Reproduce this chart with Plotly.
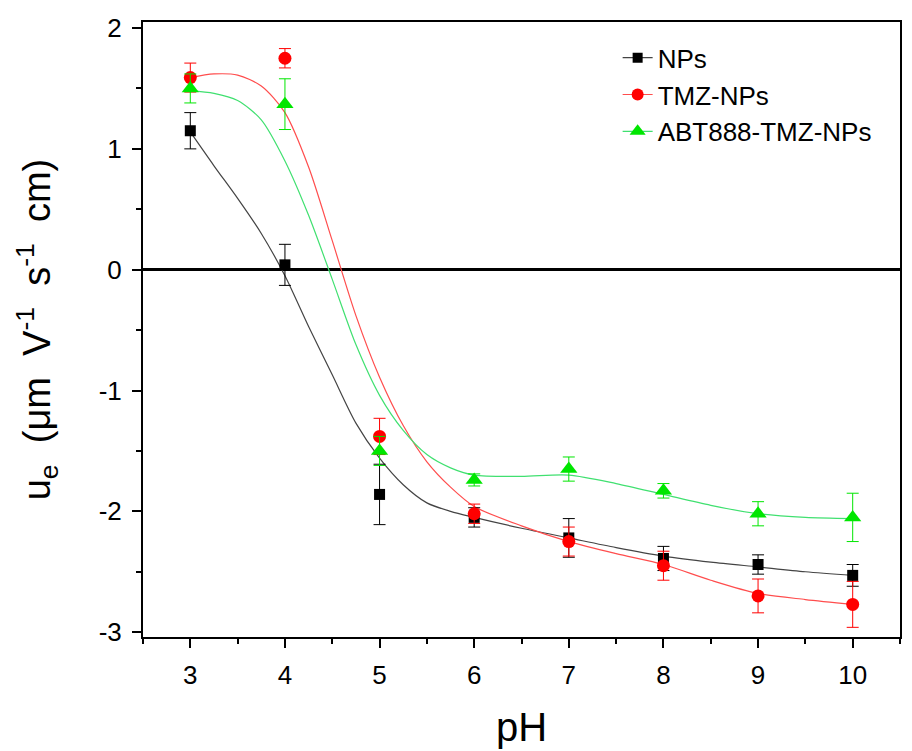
import plotly.graph_objects as go

# ---- measured data ----
pH = [3, 4, 5, 6, 7, 8, 9, 10]

nps = [1.15, 0.04, -1.86, -2.05, -2.22, -2.39, -2.44, -2.53]
nps_err = [0.15, 0.17, 0.25, 0.08, 0.16, 0.10, 0.08, 0.09]

tmz = [1.59, 1.75, -1.38, -2.02, -2.25, -2.45, -2.70, -2.77]
tmz_err = [0.12, 0.08, 0.15, 0.08, 0.12, 0.12, 0.14, 0.19]

abt = [1.50, 1.37, -1.50, -1.74, -1.65, -1.83, -2.02, -2.05]
abt_err = [0.12, 0.21, 0.12, 0.05, 0.10, 0.06, 0.10, 0.20]

# fitted curves
curve_x = [3, 3.25, 3.5, 3.75, 4, 4.25, 4.5, 4.75, 5, 5.25, 5.5, 5.75, 6,
           6.5, 7, 7.5, 8, 8.5, 9, 9.5, 10]
nps_curve = [1.14, 0.86, 0.59, 0.30, -0.05, -0.47, -0.87, -1.27, -1.56, -1.78,
             -1.93, -2.00, -2.05, -2.14, -2.22, -2.30, -2.37, -2.42, -2.46, -2.50, -2.53]
tmz_curve = [1.59, 1.62, 1.61, 1.52, 1.30, 0.85, 0.24, -0.38, -0.89, -1.29,
             -1.59, -1.80, -1.96, -2.12, -2.25, -2.35, -2.44, -2.57, -2.68, -2.73, -2.77]
abt_curve = [1.48, 1.46, 1.40, 1.24, 0.90, 0.45, -0.08, -0.62, -1.04, -1.33,
             -1.53, -1.64, -1.70, -1.71, -1.70, -1.77, -1.86, -1.95, -2.02, -2.05, -2.06]

series_names = ["NPs", "TMZ-NPs", "ABT888-TMZ-NPs"]

x_tickvals = [3, 4, 5, 6, 7, 8, 9, 10]
x_ticklabels = ["3", "4", "5", "6", "7", "8", "9", "10"]
y_tickvals = [-3, -2, -1, 0, 1, 2]
y_ticklabels = ["-3", "-2", "-1", "0", "1", "2"]

# ---- styles ----
FONT = "Arial, Liberation Sans, sans-serif"
colors = ["#000000", "#ff0000", "#00e600"]
curve_colors = ["#444444", "#ff4d4d", "#40e070"]
symbols = ["square", "circle", "triangle-up"]
sizes = [11, 13, 15]

fig = go.Figure()

ys = [nps, tmz, abt]
errs = [nps_err, tmz_err, abt_err]
curves = [nps_curve, tmz_curve, abt_curve]

for i in range(3):
    fig.add_trace(go.Scatter(
        x=curve_x, y=curves[i], mode="lines",
        line=dict(color=curve_colors[i], width=1.2, shape="spline", smoothing=0.8),
        showlegend=False, hoverinfo="skip"))

for i in range(3):
    fig.add_trace(go.Scatter(
        x=pH, y=ys[i], mode="markers",
        marker=dict(symbol=symbols[i], size=sizes[i], color=colors[i], line=dict(width=0)),
        error_y=dict(type="data", array=errs[i], color=colors[i], thickness=1, width=6),
        showlegend=False, name=series_names[i]))

# legend entries
for i in range(3):
    fig.add_trace(go.Scatter(
        x=[None], y=[None], mode="lines+markers", name=series_names[i],
        marker=dict(symbol=symbols[i], size=sizes[i] - 1, color=colors[i]),
        line=dict(color=curve_colors[i], width=1.2)))

axis_common = dict(
    showline=True, linecolor="black", linewidth=2, mirror=True,
    ticks="outside", ticklen=9, tickwidth=2, tickcolor="black",
    showgrid=False, tickfont=dict(family=FONT, size=26, color="black"),
)

fig.update_xaxes(
    range=[2.5, 10.5], tickvals=x_tickvals, ticktext=x_ticklabels,
    minor=dict(ticks="outside", ticklen=5, tickwidth=2, tickcolor="black", dtick=0.5, tick0=2.5),
    zeroline=False, ticklabelstandoff=5,
    title=dict(text="pH", font=dict(family=FONT, size=40, color="black"), standoff=24),
    **axis_common)

fig.update_yaxes(
    range=[-3.04, 2.05], tickvals=y_tickvals, ticktext=y_ticklabels,
    minor=dict(ticks="outside", ticklen=5, tickwidth=2, tickcolor="black", dtick=0.5, tick0=-3),
    zeroline=True, zerolinecolor="black", zerolinewidth=2.5, ticklabelstandoff=5,
    title=dict(text="\u00a0\u00a0u<sub>e</sub> \u00a0(\u03bcm \u00a0V<sup>-1</sup> \u00a0s<sup>-1</sup> \u00a0cm)",
               font=dict(family=FONT, size=38, color="black"), standoff=36),
    **axis_common)

fig.update_layout(
    width=912, height=751,
    margin=dict(l=135, r=20, t=14, b=122, autoexpand=False),
    paper_bgcolor="white", plot_bgcolor="white",
    showlegend=True,
    legend=dict(x=0.627, y=0.98, xanchor="left", yanchor="top",
                font=dict(family=FONT, size=26, color="black"),
                bgcolor="rgba(0,0,0,0)", borderwidth=0, tracegroupgap=0),
)

fig.write_html("out.html")
